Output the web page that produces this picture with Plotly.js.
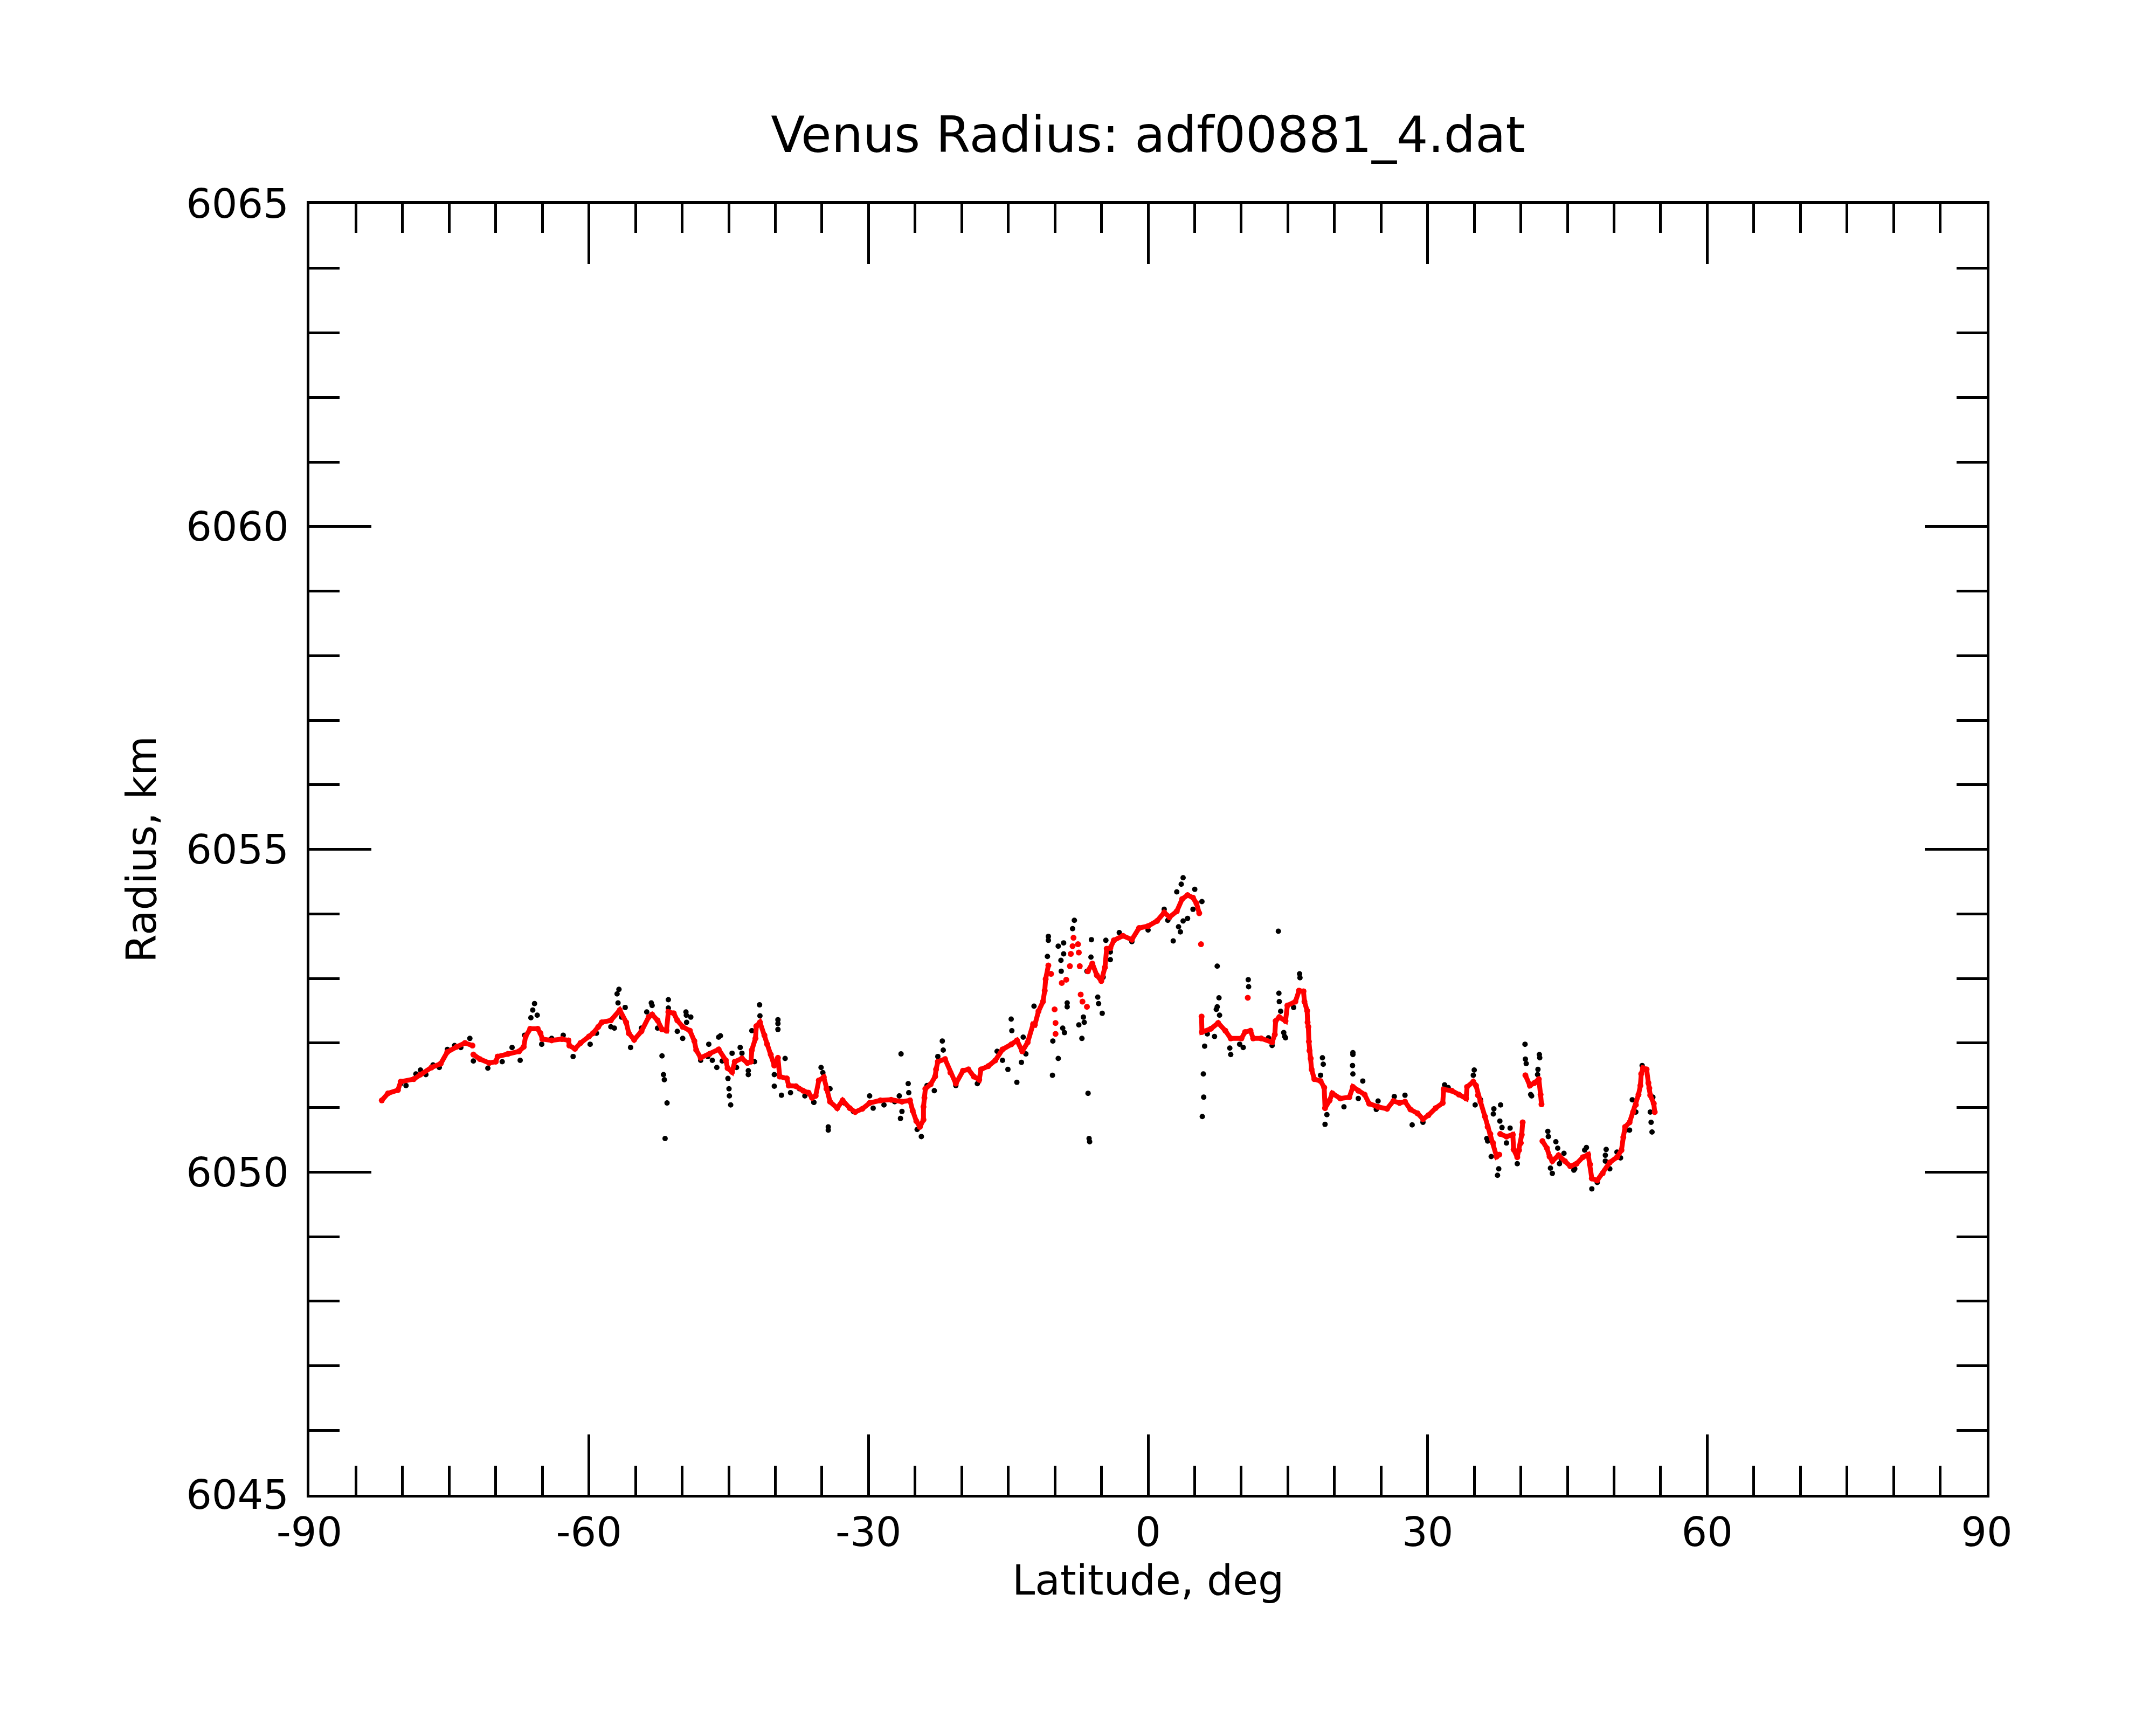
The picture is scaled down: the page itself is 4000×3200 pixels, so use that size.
<!DOCTYPE html>
<html>
<head>
<meta charset="utf-8">
<script src="https://cdn.plot.ly/plotly-3.0.1.min.js"></script>
<style>
  html, body { margin: 0; padding: 0; background: #fff; }
  #plot { width: 4000px; height: 3200px; }
</style>
</head>
<body>
<div id="plot"></div>
<script>
// raw radius samples (black), [latitude deg, radius km]
const rawPoints = [
  [-80.2, 6051.37], [-79.63, 6051.34], [-78.57, 6051.52], [-78.08, 6051.58], [-77.5, 6051.51],
  [-76.73, 6051.66], [-76.06, 6051.62], [-75.19, 6051.90], [-74.42, 6051.96], [-73.75, 6051.93],
  [-72.78, 6052.07], [-72.4, 6051.72], [-70.85, 6051.61], [-69.31, 6051.71], [-68.25, 6051.93],
  [-67.38, 6051.73], [-66.9, 6052.12], [-66.23, 6052.39], [-66.03, 6052.51], [-65.84, 6052.61],
  [-65.55, 6052.43], [-65.07, 6051.98], [-64.0, 6052.07], [-62.76, 6052.12], [-61.7, 6051.79],
  [-59.87, 6051.98], [-59.19, 6052.15], [-57.65, 6052.25], [-57.27, 6052.23], [-56.98, 6052.76],
  [-56.88, 6052.62], [-56.78, 6052.83], [-56.5, 6052.40], [-56.11, 6052.55], [-55.53, 6051.93],
  [-54.37, 6052.23], [-53.8, 6052.48], [-53.31, 6052.62], [-53.22, 6052.58], [-52.64, 6052.23],
  [-52.16, 6051.80], [-52.0, 6051.51], [-51.91, 6051.43], [-51.83, 6050.52], [-51.62, 6051.07],
  [-51.48, 6052.67], [-51.48, 6052.54], [-50.52, 6052.18], [-49.94, 6052.07], [-49.59, 6052.48],
  [-49.55, 6052.43], [-49.52, 6052.32], [-49.07, 6052.40], [-48.01, 6051.73], [-47.24, 6051.79],
  [-47.14, 6051.98], [-46.76, 6051.73], [-46.28, 6051.62], [-46.08, 6052.09], [-45.89, 6052.11],
  [-45.7, 6051.72], [-45.08, 6051.45], [-44.97, 6051.29], [-44.93, 6051.18], [-44.79, 6051.04],
  [-44.64, 6051.84], [-44.16, 6051.62], [-43.77, 6051.93], [-43.58, 6051.84], [-42.9, 6051.57],
  [-42.9, 6051.51], [-42.52, 6052.19], [-42.23, 6051.71], [-41.69, 6052.59], [-41.65, 6052.42],
  [-40.11, 6051.51], [-40.11, 6051.33], [-39.72, 6052.36], [-39.72, 6052.30], [-39.72, 6052.21],
  [-39.34, 6051.19], [-38.95, 6051.76], [-38.37, 6051.23], [-37.41, 6051.29], [-36.83, 6051.18],
  [-35.87, 6051.08], [-35.86, 6051.08], [-35.09, 6051.62], [-34.9, 6051.54], [-34.32, 6050.70],
  [-34.32, 6050.65], [-34.13, 6051.29], [-32.58, 6051.07], [-31.62, 6050.94], [-29.88, 6051.18],
  [-29.5, 6050.99], [-28.34, 6051.04], [-27.19, 6051.09], [-26.7, 6051.18], [-26.57, 6050.83],
  [-26.51, 6051.83], [-26.41, 6050.94], [-25.74, 6051.37], [-25.68, 6051.23], [-24.78, 6050.66],
  [-24.33, 6050.55], [-23.72, 6051.34], [-22.94, 6051.26], [-22.56, 6051.79], [-22.08, 6052.03],
  [-21.98, 6051.89], [-20.63, 6051.34], [-18.32, 6051.37], [-16.2, 6051.87], [-15.62, 6051.73],
  [-15.04, 6051.59], [-14.69, 6052.37], [-14.62, 6052.19], [-14.08, 6051.39], [-13.59, 6051.70],
  [-13.4, 6052.09], [-13.11, 6051.83], [-12.24, 6052.57], [-10.8, 6053.34], [-10.7, 6053.65],
  [-10.7, 6053.59], [-10.26, 6051.50], [-10.22, 6052.03], [-9.64, 6053.50], [-9.64, 6051.76],
  [-9.35, 6053.28], [-9.32, 6053.11], [-9.16, 6052.23], [-9.06, 6053.55], [-9.06, 6053.38],
  [-8.97, 6052.16], [-8.68, 6052.62], [-8.68, 6052.56], [-8.1, 6053.77], [-7.91, 6053.90],
  [-7.43, 6052.28], [-7.1, 6052.07], [-6.94, 6052.40], [-6.85, 6052.32], [-6.56, 6053.11],
  [-6.44, 6051.22], [-6.33, 6050.52], [-6.27, 6050.47], [-6.13, 6053.33], [-6.08, 6053.60],
  [-5.4, 6052.71], [-5.31, 6052.61], [-4.92, 6052.46], [-4.82, 6053.02], [-4.53, 6053.59],
  [-4.05, 6053.29], [-4.05, 6053.41], [-3.09, 6053.71], [-1.74, 6053.57], [0.0, 6053.75],
  [1.73, 6054.07], [2.12, 6053.90], [2.7, 6053.58], [3.08, 6054.34], [3.27, 6053.80],
  [3.47, 6053.72], [3.56, 6054.46], [3.76, 6054.56], [3.76, 6053.89], [4.24, 6053.93],
  [4.82, 6054.07], [5.01, 6054.38], [5.78, 6054.19], [5.82, 6050.86], [5.93, 6051.52],
  [5.97, 6051.16], [6.07, 6051.95], [6.36, 6052.14], [7.13, 6052.10], [7.32, 6052.52],
  [7.42, 6052.56], [7.42, 6053.19], [7.61, 6052.70], [7.67, 6052.43], [8.77, 6051.92],
  [8.87, 6051.82], [9.83, 6051.98], [10.21, 6051.93], [10.75, 6052.98], [10.79, 6052.87],
  [12.92, 6052.08], [13.31, 6051.96], [13.98, 6053.73], [14.04, 6052.77], [14.08, 6052.64],
  [14.23, 6052.49], [14.56, 6052.16], [14.66, 6052.10], [14.75, 6052.08], [15.62, 6052.55],
  [16.26, 6053.07], [16.3, 6053.01], [18.51, 6051.50], [18.71, 6051.77], [18.8, 6051.67],
  [18.99, 6050.74], [19.19, 6050.89], [21.02, 6051.01], [21.94, 6051.65], [21.98, 6051.85],
  [21.98, 6051.82], [21.98, 6051.52], [22.56, 6051.14], [23.04, 6051.41], [24.49, 6050.97],
  [24.68, 6051.10], [26.42, 6051.17], [27.57, 6051.19], [28.34, 6050.73], [29.5, 6050.77],
  [31.82, 6051.35], [32.2, 6051.31], [34.9, 6051.50], [35.0, 6051.58], [35.1, 6051.04],
  [35.67, 6051.12], [36.35, 6050.52], [36.44, 6050.48], [36.82, 6050.24], [37.05, 6050.90],
  [37.11, 6050.98], [37.5, 6049.95], [37.63, 6050.05], [37.75, 6050.79], [37.83, 6051.04],
  [37.98, 6050.69], [38.46, 6050.45], [38.85, 6050.68], [39.62, 6050.13], [40.45, 6051.98],
  [40.49, 6051.75], [40.58, 6051.68], [41.06, 6051.20], [41.16, 6051.18], [41.8, 6051.51],
  [41.84, 6051.59], [41.99, 6051.82], [42.03, 6051.77], [42.9, 6050.63], [42.95, 6050.55],
  [43.18, 6050.06], [43.38, 6049.98], [43.76, 6050.47], [43.96, 6050.37], [44.15, 6050.13],
  [44.34, 6050.20], [44.63, 6050.29], [45.69, 6050.03], [45.79, 6050.05], [46.85, 6050.34],
  [47.04, 6050.38], [47.62, 6049.74], [48.2, 6049.84], [49.07, 6050.26], [49.07, 6050.17],
  [49.16, 6050.35], [49.55, 6050.05], [50.32, 6050.31], [50.7, 6050.22], [51.28, 6050.65],
  [51.67, 6050.65], [51.96, 6051.12], [52.34, 6050.93], [53.02, 6051.65], [53.89, 6050.93],
  [53.98, 6050.77], [54.08, 6050.62], [54.17, 6051.16]
];

// smoothed radius (red), continuous runs
const smoothRuns = [
  [[-82.23, 6051.11], [-81.56, 6051.22], [-80.5, 6051.27], [-80.2, 6051.40], [-78.8, 6051.44],
   [-78.1, 6051.51], [-76.9, 6051.62], [-75.9, 6051.68], [-75.2, 6051.86], [-74.2, 6051.94],
   [-73.3, 6052.00], [-72.5, 6051.96]],
  [[-72.4, 6051.82], [-71.7, 6051.75], [-70.7, 6051.69], [-70.0, 6051.71], [-69.8, 6051.79],
   [-68.7, 6051.83], [-67.5, 6051.87], [-67.0, 6051.94], [-66.8, 6052.10], [-66.3, 6052.22],
   [-65.5, 6052.22], [-65.2, 6052.15], [-65.0, 6052.06], [-64.0, 6052.04], [-62.9, 6052.06],
   [-62.2, 6052.04], [-62.1, 6051.96], [-61.5, 6051.91], [-60.9, 6052.00], [-60.0, 6052.10],
   [-59.58, 6052.15], [-59.0, 6052.25], [-58.62, 6052.32], [-57.65, 6052.35], [-56.69, 6052.51],
   [-56.01, 6052.32], [-55.72, 6052.15], [-55.15, 6052.05], [-54.37, 6052.18], [-53.6, 6052.40],
   [-53.22, 6052.44], [-52.64, 6052.35], [-52.16, 6052.21], [-51.68, 6052.19], [-51.48, 6052.48],
   [-50.9, 6052.46], [-50.52, 6052.35], [-49.94, 6052.25], [-49.17, 6052.19], [-48.69, 6052.03],
   [-48.49, 6051.89], [-48.01, 6051.77], [-47.05, 6051.83], [-46.08, 6051.90], [-45.31, 6051.73],
   [-45.12, 6051.61], [-44.64, 6051.55], [-44.35, 6051.71], [-43.58, 6051.76], [-43.0, 6051.69],
   [-42.61, 6051.71], [-42.52, 6051.89], [-42.13, 6052.07], [-42.04, 6052.26], [-41.65, 6052.32],
   [-41.17, 6052.12], [-40.88, 6051.98], [-40.49, 6051.82], [-40.11, 6051.65], [-39.72, 6051.77],
   [-39.53, 6051.48], [-38.76, 6051.45], [-38.56, 6051.34], [-37.79, 6051.33], [-37.02, 6051.26],
   [-36.44, 6051.23], [-36.06, 6051.15], [-35.67, 6051.18], [-35.33, 6051.42], [-34.8, 6051.47],
   [-34.51, 6051.29], [-34.13, 6051.09], [-33.36, 6050.99], [-32.78, 6051.11], [-32.01, 6050.99],
   [-31.43, 6050.93], [-30.66, 6050.98], [-29.88, 6051.07], [-28.73, 6051.11], [-27.57, 6051.12],
   [-26.41, 6051.09], [-25.55, 6051.11], [-25.26, 6050.95], [-24.87, 6050.79], [-24.49, 6050.70],
   [-24.1, 6050.81], [-24.1, 6051.01], [-24.0, 6051.15], [-23.9, 6051.29], [-23.33, 6051.36],
   [-22.85, 6051.48], [-22.75, 6051.59], [-22.56, 6051.71], [-21.79, 6051.75], [-21.21, 6051.54],
   [-20.63, 6051.37], [-19.86, 6051.57], [-19.28, 6051.59], [-18.7, 6051.48], [-18.12, 6051.43],
   [-17.93, 6051.59], [-17.16, 6051.64], [-16.39, 6051.73], [-15.62, 6051.90], [-14.66, 6051.98],
   [-14.07, 6052.04], [-13.5, 6051.87], [-12.92, 6052.01], [-12.34, 6052.29], [-12.15, 6052.28],
   [-11.76, 6052.49], [-11.28, 6052.64], [-11.09, 6052.81], [-10.99, 6052.99], [-10.7, 6053.20]],
  [[-6.46, 6053.11], [-5.98, 6053.23], [-5.5, 6053.05], [-5.02, 6052.96], [-4.63, 6053.17],
   [-4.44, 6053.46], [-4.05, 6053.47], [-3.67, 6053.59], [-2.7, 6053.66], [-1.74, 6053.60],
   [-0.97, 6053.78], [0.0, 6053.81], [0.96, 6053.89], [1.73, 6054.02], [2.31, 6053.95],
   [3.08, 6054.04], [3.66, 6054.23], [4.24, 6054.29], [4.82, 6054.25], [5.2, 6054.16],
   [5.49, 6054.01]],
  [[5.74, 6052.41], [5.78, 6052.17], [6.74, 6052.22], [7.52, 6052.31], [8.29, 6052.19],
   [8.87, 6052.07], [10.02, 6052.07], [10.41, 6052.17], [10.99, 6052.19], [11.28, 6052.07],
   [12.14, 6052.07], [13.31, 6052.01], [13.6, 6052.13], [13.69, 6052.34], [14.08, 6052.40],
   [14.75, 6052.34], [14.95, 6052.58], [15.81, 6052.64], [16.2, 6052.81], [16.68, 6052.80],
   [16.78, 6052.64], [17.07, 6052.50], [17.12, 6052.32], [17.2, 6052.25], [17.26, 6052.02],
   [17.32, 6051.88], [17.45, 6051.76], [17.55, 6051.59], [17.84, 6051.44], [18.51, 6051.41],
   [18.9, 6051.31], [18.99, 6050.99], [19.48, 6051.11], [19.77, 6051.22], [20.63, 6051.14],
   [21.6, 6051.16], [21.98, 6051.32], [22.56, 6051.26], [23.24, 6051.20], [23.72, 6051.06],
   [24.68, 6051.01], [25.65, 6050.98], [26.32, 6051.10], [26.99, 6051.07], [27.57, 6051.09],
   [28.15, 6050.97], [28.92, 6050.91], [29.5, 6050.82], [30.08, 6050.88], [30.85, 6050.99],
   [31.62, 6051.07], [31.72, 6051.28], [32.59, 6051.26], [33.36, 6051.20], [34.13, 6051.14],
   [34.23, 6051.32], [34.9, 6051.40], [35.19, 6051.34], [35.4, 6051.19], [35.67, 6051.09],
   [36.15, 6050.86], [36.44, 6050.70], [36.73, 6050.59], [37.02, 6050.45], [37.4, 6050.24],
   [37.69, 6050.27]],
  [[37.79, 6050.59], [38.46, 6050.55], [39.14, 6050.58], [39.23, 6050.35], [39.62, 6050.23],
   [39.81, 6050.34], [40.0, 6050.45], [40.1, 6050.58], [40.2, 6050.77]],
  [[40.49, 6051.50], [40.97, 6051.34], [41.45, 6051.38], [41.93, 6051.44], [42.12, 6051.20],
   [42.22, 6051.05]],
  [[42.32, 6050.48], [42.8, 6050.37], [43.09, 6050.24], [43.38, 6050.17], [44.05, 6050.26],
   [44.73, 6050.17], [45.31, 6050.09], [45.98, 6050.13], [46.66, 6050.23], [47.23, 6050.27],
   [47.43, 6050.12], [47.62, 6049.90], [48.2, 6049.87], [48.78, 6049.98], [49.55, 6050.15],
   [50.32, 6050.23], [50.8, 6050.34], [51.0, 6050.54], [51.19, 6050.70], [51.67, 6050.77],
   [52.05, 6050.93], [52.34, 6051.04], [52.63, 6051.20], [52.83, 6051.34], [52.92, 6051.52],
   [53.11, 6051.61], [53.5, 6051.59], [53.69, 6051.38], [53.79, 6051.30], [53.89, 6051.19],
   [54.27, 6051.06], [54.37, 6050.93]]
];

// smoothed samples that stand apart from the runs
const smoothLoose = [
  [-10.41, 6053.07], [-10.03, 6052.52], [-9.93, 6052.31], [-9.93, 6052.14], [-9.26, 6052.93],
  [-8.78, 6052.98], [-8.39, 6053.19], [-8.29, 6053.38], [-8.1, 6053.50], [-8.0, 6053.63],
  [-7.52, 6053.53], [-7.43, 6053.40], [-7.33, 6053.19], [-7.23, 6052.75], [-7.04, 6052.64],
  [-6.56, 6052.56], [5.68, 6053.53], [10.7, 6052.70]
];

const xTicks = [-90, -60, -30, 0, 30, 60, 90];
const yTicks = [6045, 6050, 6055, 6060, 6065];

const runLat = [], runRad = [];
smoothRuns.forEach(function (run) {
  run.forEach(function (p) { runLat.push(p[0]); runRad.push(p[1]); });
  runLat.push(null); runRad.push(null);
});

const font = { family: 'DejaVu Sans, sans-serif', color: '#000' };

const traces = [
  {
    x: rawPoints.map(p => p[0]), y: rawPoints.map(p => p[1]),
    type: 'scatter', mode: 'markers',
    marker: { color: '#000', size: 10 },
    hoverinfo: 'skip'
  },
  {
    x: runLat, y: runRad,
    type: 'scatter', mode: 'lines+markers', connectgaps: false,
    line: { color: '#ff0000', width: 9 },
    marker: { color: '#ff0000', size: 11 },
    hoverinfo: 'skip'
  },
  {
    x: smoothLoose.map(p => p[0]), y: smoothLoose.map(p => p[1]),
    type: 'scatter', mode: 'markers',
    marker: { color: '#ff0000', size: 11 },
    hoverinfo: 'skip'
  }
];

function axisStyle(ticks, majorLen, minorStep, minorLen) {
  return {
    tickmode: 'array', tickvals: ticks, ticktext: ticks.map(String),
    ticks: 'inside', ticklen: majorLen, tickwidth: 5, tickcolor: '#000',
    showline: true, linewidth: 5, linecolor: '#000', mirror: 'allticks',
    showgrid: false, zeroline: false,
    tickfont: Object.assign({ size: 75 }, font),
    minor: { dtick: minorStep, ticks: 'inside', ticklen: minorLen, tickwidth: 5, tickcolor: '#000', showgrid: false }
  };
}

const xaxis = axisStyle(xTicks, 112, 5, 54);
xaxis.range = [-90, 90];
xaxis.minor.tick0 = 0;

const yaxis = axisStyle(yTicks, 115, 1, 56);
yaxis.range = [6045, 6065];
yaxis.minor.tick0 = 6045;
yaxis.ticklabelstandoff = 18;
yaxis.title = { text: 'Radius, km', font: Object.assign({ size: 76 }, font), standoff: 32 };

Plotly.newPlot('plot', traces, {
  width: 4000, height: 3200,
  margin: { l: 574, r: 314, t: 378, b: 427 },
  paper_bgcolor: '#fff', plot_bgcolor: '#fff',
  font: font,
  showlegend: false,
  hovermode: false,
  title: {
    text: 'Venus Radius: adf00881_4.dat',
    font: Object.assign({ size: 92 }, font),
    x: 0.5, xref: 'paper', xanchor: 'center',
    y: 1 - 250 / 3200, yref: 'container', yanchor: 'middle'
  },
  annotations: [{
    text: 'Latitude, deg',
    font: Object.assign({ size: 76 }, font),
    xref: 'paper', x: 0.5, xanchor: 'center',
    yref: 'paper', y: -0.066, yanchor: 'middle',
    showarrow: false
  }],
  xaxis: xaxis,
  yaxis: yaxis
}, { displayModeBar: false, staticPlot: true });
</script>
</body>
</html>
